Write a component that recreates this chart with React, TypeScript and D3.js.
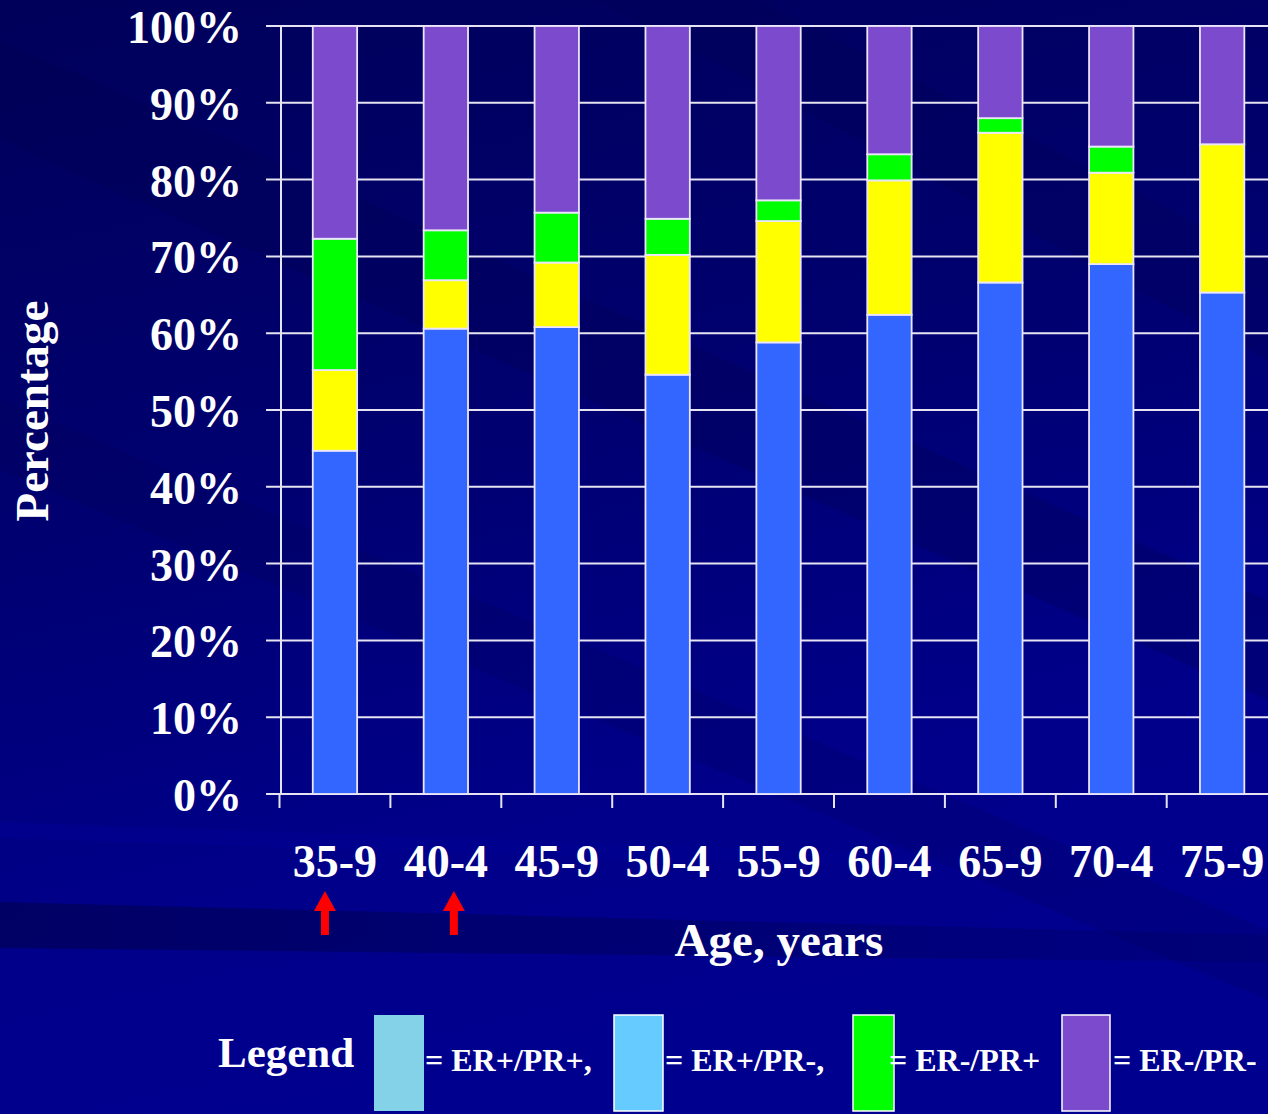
import React from "react";
import * as d3 from "d3";

const categories = ["35-9", "40-4", "45-9", "50-4", "55-9", "60-4", "65-9", "70-4", "75-9"];
const seriesKeys = ["ER+/PR+", "ER+/PR-", "ER-/PR+", "ER-/PR-"];
const erPosPrPos = [44.7, 60.6, 60.8, 54.6, 58.8, 62.4, 66.6, 69.0, 65.3];
const erPosPrNeg = [10.5, 6.3, 8.4, 15.6, 15.8, 17.5, 19.5, 11.9, 19.3];
const erNegPrPos = [17.1, 6.5, 6.5, 4.7, 2.7, 3.4, 1.9, 3.4, 0.0];
const erNegPrNeg = [27.7, 26.6, 24.3, 25.1, 22.7, 16.7, 12.0, 15.7, 15.4];
const yTicks = [0, 10, 20, 30, 40, 50, 60, 70, 80, 90, 100];
const arrowCategories = ["35-9", "40-4"];
const legendLabels = ["= ER+/PR+,", "= ER+/PR-,", "= ER-/PR+", "= ER-/PR-"];

const barColors = ["#3366FF", "#FFFF00", "#00FF00", "#7B4ACD"];
const legendColors = ["#84D2E8", "#66CCFF", "#00FF00", "#7B4ACD"];

const W = 1268;
const H = 1114;
const FONT = "'Liberation Serif', 'Times New Roman', serif";

export default function App() {
  const rows = categories.map((c, i) => ({
    cat: c,
    [seriesKeys[0]]: erPosPrPos[i],
    [seriesKeys[1]]: erPosPrNeg[i],
    [seriesKeys[2]]: erNegPrPos[i],
    [seriesKeys[3]]: erNegPrNeg[i],
  }));
  const stacked = d3.stack<any>().keys(seriesKeys)(rows);

  const x0 = 279.5;
  const step = 110.9;
  const x = d3
    .scaleBand<string>()
    .domain(categories)
    .range([x0, x0 + step * categories.length])
    .paddingInner(0.6)
    .paddingOuter(0.3);
  const y = d3.scaleLinear().domain([0, 100]).range([794, 26]);
  const bw = x.bandwidth();
  const off = (x.step() - bw) / 2;

  const gridColor = "#E6E4F2";

  return (
    <svg
      width={W}
      height={H}
      style={{ position: "absolute", left: 0, top: 0, display: "block" }}
      xmlns="http://www.w3.org/2000/svg"
    >
      <defs>
        <linearGradient id="bg" x1="0" y1="0" x2="0.25" y2="1">
          <stop offset="0" stopColor="#00005A" />
          <stop offset="0.45" stopColor="#000070" />
          <stop offset="0.8" stopColor="#00008A" />
          <stop offset="1" stopColor="#00008E" />
        </linearGradient>
        <linearGradient id="band1" x1="0" y1="0" x2="1" y2="0">
          <stop offset="0" stopColor="#0000A0" stopOpacity="0.3" />
          <stop offset="1" stopColor="#0000A0" stopOpacity="0" />
        </linearGradient>
        <linearGradient id="band2" x1="0" y1="0" x2="1" y2="0">
          <stop offset="0" stopColor="#000040" stopOpacity="0.5" />
          <stop offset="1" stopColor="#000040" stopOpacity="0.15" />
        </linearGradient>
      </defs>
      <rect x={0} y={0} width={W} height={H} fill="url(#bg)" />
      {/* subtle diagonal stripes */}
      <polygon points="0,40 0,140 1268,700 1268,600" fill="#000050" opacity={0.28} />
      <polygon points="0,400 0,470 1268,1000 1268,930" fill="#000050" opacity={0.18} />
      <polygon points="600,0 760,0 1268,260 1268,360" fill="#000050" opacity={0.25} />
      <polygon points="0,822 0,838 1268,880 1268,866" fill="url(#band1)" />
      <polygon points="0,902 0,948 1268,962 1268,935" fill="url(#band2)" />

      {/* gridlines */}
      {yTicks.map((t) => (
        <line
          key={"g" + t}
          x1={266}
          x2={W}
          y1={y(t)}
          y2={y(t)}
          stroke={gridColor}
          strokeWidth={2}
        />
      ))}
      {/* y axis */}
      <line x1={281} x2={281} y1={y(100)} y2={y(0)} stroke={gridColor} strokeWidth={2} />
      {/* x ticks */}
      {categories.map((c) => (
        <line
          key={"xt" + c}
          x1={(x(c) as number) - off}
          x2={(x(c) as number) - off}
          y1={y(0)}
          y2={808}
          stroke={gridColor}
          strokeWidth={2}
        />
      ))}

      {/* bars */}
      {stacked.map((s, si) => (
        <g key={s.key}>
          {s.map((d, i) =>
            d[1] - d[0] > 0 ? (
              <rect
                key={i}
                x={x(categories[i]) as number}
                y={y(d[1])}
                width={bw}
                height={y(d[0]) - y(d[1])}
                fill={barColors[si]}
                stroke="#ECE6FA"
                strokeWidth={1.8}
              />
            ) : null
          )}
        </g>
      ))}

      {/* y tick labels */}
      {yTicks.map((t) => (
        <text
          key={"yl" + t}
          x={242}
          y={y(t) + 17}
          textAnchor="end"
          fill="#FFFFFF"
          fontFamily={FONT}
          fontWeight="bold"
          fontSize={46}
        >
          {t + "%"}
        </text>
      ))}

      {/* x labels */}
      {categories.map((c) => (
        <text
          key={"xl" + c}
          x={(x(c) as number) + bw / 2}
          y={877}
          textAnchor="middle"
          fill="#FFFFFF"
          fontFamily={FONT}
          fontWeight="bold"
          fontSize={46}
        >
          {c}
        </text>
      ))}

      {/* red arrows */}
      {arrowCategories.map((c, i) => {
        const cx = (x(c) as number) + bw / 2 + (i === 0 ? -10 : 8);
        return (
          <g key={"ar" + c} fill="#FF0000">
            <polygon points={`${cx},891 ${cx - 11},911 ${cx + 11},911`} />
            <rect x={cx - 4} y={910} width={8} height={25} />
          </g>
        );
      })}

      {/* axis titles */}
      <text
        x={779}
        y={956}
        textAnchor="middle"
        fill="#FFFFFF"
        fontFamily={FONT}
        fontWeight="bold"
        fontSize={47}
      >
        Age, years
      </text>
      <text
        transform="translate(48,411) rotate(-90)"
        textAnchor="middle"
        fill="#FFFFFF"
        fontFamily={FONT}
        fontWeight="bold"
        fontSize={47}
      >
        Percentage
      </text>

      {/* legend */}
      <text
        x={218}
        y={1067}
        fill="#FFFFFF"
        fontFamily={FONT}
        fontWeight="bold"
        fontSize={43}
      >
        Legend
      </text>
      {legendLabels.map((lab, i) => {
        const bx = [374, 614, 853, 1062][i];
        const bwid = [50, 49, 41, 48][i];
        const tx = [425, 665, 889, 1113][i];
        return (
          <g key={"lg" + i}>
            <rect
              x={bx}
              y={1015}
              width={bwid}
              height={96}
              fill={legendColors[i]}
              stroke={i === 0 ? "none" : "#FFFFFF"}
              strokeWidth={1.5}
            />
            <text
              x={tx}
              y={1071}
              fill="#FFFFFF"
              fontFamily={FONT}
              fontWeight="bold"
              fontSize={32}
            >
              {lab}
            </text>
          </g>
        );
      })}
    </svg>
  );
}
